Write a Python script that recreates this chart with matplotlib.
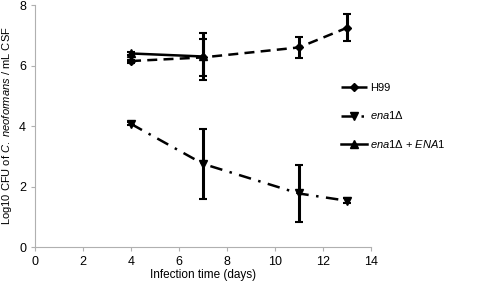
import matplotlib.pyplot as plt

plt.rcParams["font.family"] = ["Liberation Sans", "DejaVu Sans"]
plt.rcParams["mathtext.fontset"] = "custom"
plt.rcParams["mathtext.rm"] = "Liberation Sans"
plt.rcParams["mathtext.it"] = "Liberation Sans:italic"

days_h99 = [4, 7, 11, 13]
h99 = [6.15, 6.27, 6.6, 7.25]
h99_err = [0.05, 0.6, 0.35, 0.45]

days_ena1 = [4, 7, 11, 13]
ena1 = [4.07, 2.75, 1.77, 1.53]
ena1_err = [0.05, 1.15, 0.95, 0.08]

days_comp = [4, 7]
comp = [6.4, 6.3]
comp_err = [0.05, 0.78]


def main():
    fig = plt.figure(figsize=(4.8, 2.82), dpi=100)
    ax = fig.add_axes([0.073, 0.124, 0.7, 0.858])

    ax.errorbar(days_h99, h99, yerr=h99_err, color="black", lw=1.8,
                ls=(0, (4, 2.5)), marker="D", ms=4.5, elinewidth=2.2,
                capsize=3, capthick=1.5, label="H99")
    ax.errorbar(days_ena1, ena1, yerr=ena1_err, color="black", lw=1.8,
                ls=(0, (5, 3, 1, 3)), marker="v", ms=6, elinewidth=2.2,
                capsize=3, capthick=1.5, label=r"$\mathit{ena1Δ}$")
    ax.errorbar(days_comp, comp, yerr=comp_err, color="black", lw=1.8,
                ls="-", marker="^", ms=6, elinewidth=2.2,
                capsize=3, capthick=1.5,
                label=r"$\mathit{ena1Δ}$ + $\mathit{ENA1}$")

    ax.set_xlim(0, 14)
    ax.set_ylim(0, 8)
    ax.set_xticks(range(0, 15, 2))
    ax.set_yticks(range(0, 9, 2))
    for s in ["top", "right"]:
        ax.spines[s].set_visible(False)
    for s in ["left", "bottom"]:
        ax.spines[s].set_color("#b0b0b0")
    ax.tick_params(colors="#b0b0b0", labelcolor="black", labelsize=9,
                   length=3)

    ax.set_xlabel("Infection time (days)", fontsize=8.5, labelpad=1)
    ax.set_ylabel(r"Log10 CFU of $\mathit{C.\ neoformans}$ / mL CSF",
                  fontsize=8)
    ax.yaxis.set_label_coords(-0.062, 0.5)

    handles, labels = ax.get_legend_handles_labels()
    handles = [h[0] for h in handles]
    fig.legend(handles, labels, loc="upper left",
               bbox_to_anchor=(0.69, 0.74), frameon=False, fontsize=8,
               handlelength=2.3, labelspacing=1.45, handletextpad=0.3)

    fig.savefig("out.png", dpi=100)


if __name__ == "__main__":
    main()
